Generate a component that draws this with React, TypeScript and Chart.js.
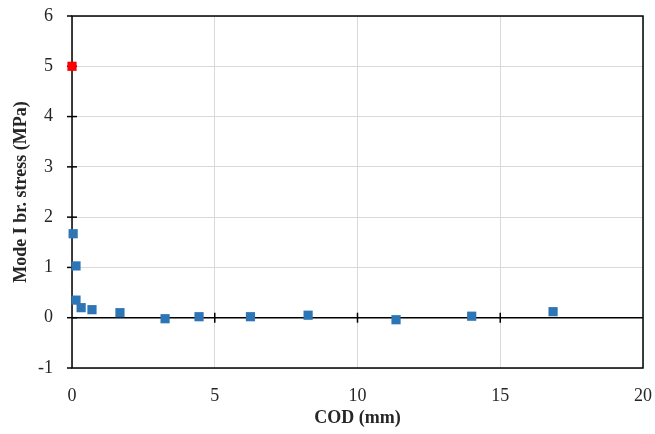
import React, { useEffect, useRef } from "react";
import { Chart, registerables } from "chart.js";

Chart.register(...registerables);

const peakCod = [0];
const peakStress = [5.0];
const codValues = [0.04, 0.14, 0.14, 0.32, 0.7, 1.68, 3.26, 4.45, 6.25, 8.27, 11.35, 14.0, 16.85];
const stressValues = [1.67, 1.03, 0.35, 0.2, 0.16, 0.1, -0.02, 0.02, 0.02, 0.05, -0.04, 0.03, 0.12];
const xTickValues = [0, 5, 10, 15, 20];
const yTickValues = [-1, 0, 1, 2, 3, 4, 5, 6];

const FONT = "'Liberation Serif', serif";

const framePlugin = {
  id: "frame",
  beforeDatasetsDraw(chart: any) {
    const { ctx, chartArea, scales } = chart;
    const x = scales.x;
    const y = scales.y;
    ctx.save();
    ctx.strokeStyle = "#000";
    ctx.lineWidth = 1.5;
    ctx.strokeRect(chartArea.left, chartArea.top, chartArea.right - chartArea.left, chartArea.bottom - chartArea.top);
    const y0 = y.getPixelForValue(0);
    ctx.beginPath();
    ctx.moveTo(chartArea.left, y0);
    ctx.lineTo(chartArea.right, y0);
    ctx.stroke();
    xTickValues.forEach((v) => {
      if (v === xTickValues[0] || v === xTickValues[xTickValues.length - 1]) return;
      const px = x.getPixelForValue(v);
      ctx.beginPath();
      ctx.moveTo(px, y0 - 5);
      ctx.lineTo(px, y0 + 5);
      ctx.stroke();
    });
    yTickValues.forEach((v) => {
      const py = y.getPixelForValue(v);
      ctx.beginPath();
      ctx.moveTo(chartArea.left - 5, py);
      ctx.lineTo(v === yTickValues[0] || v === yTickValues[yTickValues.length - 1] ? chartArea.left : chartArea.left + 5, py);
      ctx.stroke();
    });
    ctx.restore();
  },
};

export default function App() {
  const ref = useRef<HTMLCanvasElement>(null);
  useEffect(() => {
    document.body.style.margin = "0";
    const chart = new Chart(ref.current!, {
      type: "scatter",
      data: {
        datasets: [
          {
            data: codValues.map((c, i) => ({ x: c, y: stressValues[i] })),
            pointStyle: "rect",
            pointRadius: 6.5,
            backgroundColor: "#2E75B6",
            borderColor: "#2E75B6",
            borderWidth: 0,
            clip: false,
          },
          {
            data: peakCod.map((c, i) => ({ x: c, y: peakStress[i] })),
            pointStyle: "rect",
            pointRadius: 6.5,
            backgroundColor: "#FF0000",
            borderColor: "#FF0000",
            borderWidth: 0,
            clip: false,
          },
        ],
      },
      options: {
        responsive: false,
        animation: false,
        layout: { padding: { left: 0, right: 12, top: 16, bottom: 0 } },
        plugins: { legend: { display: false }, tooltip: { enabled: false } },
        scales: {
          x: {
            type: "linear",
            min: 0,
            max: 20,
            afterBuildTicks: (s: any) => {
              s.ticks = xTickValues.map((v) => ({ value: v }));
            },
            afterFit: (s: any) => {
              s.height = 66;
              s.paddingLeft = 0;
              s.paddingRight = 0;
            },
            grid: { color: "#d9d9d9", lineWidth: 1, drawTicks: false },
            border: { display: false },
            ticks: { padding: 17, color: "#262626", font: { family: FONT, size: 18 } },
            title: {
              display: true,
              text: "COD (mm)",
              color: "#262626",
              padding: { top: 4, bottom: 5 },
              font: { family: FONT, size: 18, weight: "bold" },
            },
          },
          y: {
            type: "linear",
            min: -1,
            max: 6,
            afterBuildTicks: (s: any) => {
              s.ticks = yTickValues.map((v) => ({ value: v }));
            },
            afterFit: (s: any) => {
              s.width = 72;
              s.paddingTop = 0;
              s.paddingBottom = 0;
            },
            grid: { color: "#d9d9d9", lineWidth: 1, drawTicks: false },
            border: { display: false },
            ticks: { padding: 19, color: "#262626", font: { family: FONT, size: 18 } },
            title: {
              display: true,
              text: "Mode I br. stress (MPa)",
              color: "#262626",
              padding: { top: 11, bottom: 4 },
              font: { family: FONT, size: 18, weight: "bold" },
            },
          },
        },
      },
      plugins: [framePlugin],
    });
    return () => chart.destroy();
  }, []);
  return (
    <div style={{ position: "absolute", left: 0, top: 0, width: 655, height: 434, background: "#fff" }}>
      <canvas ref={ref} width={655} height={434} />
    </div>
  );
}
